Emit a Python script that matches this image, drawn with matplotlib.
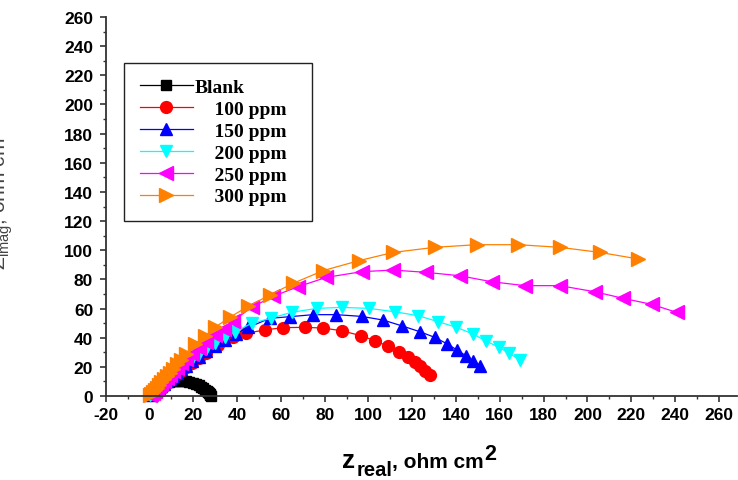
import matplotlib
matplotlib.use("Agg")
import matplotlib.pyplot as plt
from matplotlib.ticker import MultipleLocator

# ---------------- data ----------------
labels = ["Blank", "    100 ppm", "    150 ppm", "    200 ppm", "    250 ppm", "    300 ppm"]

blank_x = [0.5, 1, 1.8, 2.7, 3.7, 4.8, 6, 7.3, 8.7, 10.2, 11.8, 13.4, 15, 16.6, 18.2, 19.7,
           21.1, 22.4, 23.6, 24.6, 25.5, 26.2, 26.8, 27.3, 27.6, 27.8, 27.9]
blank_y = [0.6, 1.8, 3.2, 4.6, 5.9, 7.1, 8.1, 9, 9.7, 10.2, 10.5, 10.6, 10.5, 10.2, 9.7, 9.1,
           8.3, 7.4, 6.4, 5.4, 4.4, 3.5, 2.6, 1.8, 1.1, 0.5, 0]

ppm100_x = [0.3, 0.8, 1.5, 2.3, 3.2, 4.2, 5.3, 6.5, 7.8, 9.2, 10.8, 12.5, 14.5, 16.8, 19.3, 22.5,
            26, 31.4, 38.2, 44, 52.7, 61, 71, 79.3, 87.7, 96.5, 103, 109, 114, 118.1, 121.2,
            123.5, 125.8, 128]
ppm100_y = [0.4, 1.0, 1.8, 2.8, 3.9, 5.1, 6.4, 7.8, 9.4, 11, 12.9, 14.9, 17.2, 19.7, 22.4, 25.8,
            29.5, 35.0, 40.2, 43, 45.3, 46.9, 47.1, 46.6, 44.8, 41.4, 37.9, 34.1, 30.4, 27, 23.5,
            20.8, 17.4, 14.4]

ppm150_x = [0.3, 0.8, 1.5, 2.3, 3.2, 4.2, 5.3, 6.5, 7.8, 9.2, 10.8, 12.5, 14.5, 16.8, 19.5, 22.5,
            26, 30, 34.5, 39.5, 45, 55, 64, 74.7, 85.4, 96.9, 106.7, 115.1, 123.5, 130.3, 136,
            140.5, 144.5, 147.8, 150.9]
ppm150_y = [0.4, 1.1, 2.0, 3.0, 4.2, 5.5, 6.9, 8.4, 10.0, 11.8, 13.7, 15.8, 18.2, 20.8, 23.7, 27,
            30.6, 34.5, 38.6, 42.8, 47, 53.3, 54.4, 55.8, 55.8, 54.6, 52.1, 48.2, 44.1, 40.2, 35.7,
            31.5, 27.6, 24.2, 20.8]

ppm200_x = [0.3, 0.8, 1.5, 2.3, 3.2, 4.2, 5.3, 6.5, 7.8, 9.2, 10.8, 12.5, 14.5, 16.8, 19.5, 22.5,
            26, 30, 34.5, 39, 46.6, 55.7, 64.9, 76.3, 87.7, 100.3, 112, 122.7, 131.8, 140.2,
            147.8, 153.9, 159.7, 164.2, 169.1]
ppm200_y = [0.4, 1.1, 2.1, 3.2, 4.4, 5.8, 7.3, 8.9, 10.7, 12.6, 14.7, 17.0, 19.6, 22.4, 25.5, 28.8,
            32.5, 36.4, 40.3, 44.1, 49.8, 53.5, 57.4, 60.1, 60.8, 60.1, 57.8, 55.1, 51, 47.1,
            42.5, 37.5, 33.4, 29.3, 24.9]

ppm250_x = [0.3, 0.8, 1.5, 2.3, 3.2, 4.2, 5.3, 6.5, 7.8, 9.2, 10.8, 12.5, 14.5, 16.8, 19.5, 22.5,
            26, 30, 34, 38.2, 46.6, 56.5, 67.9, 80.8, 97, 111.3, 126.5, 141.7, 156.2, 171.4,
            187.4, 203.4, 216.3, 229.3, 240.7]
ppm250_y = [0.5, 1.3, 2.4, 3.7, 5.1, 6.7, 8.4, 10.3, 12.3, 14.5, 16.9, 19.5, 22.4, 25.6, 29.1, 32.9,
            37.1, 41.7, 46.3, 51.5, 60.8, 68.4, 75, 81.4, 85.3, 86.4, 84.8, 82.5, 78.4, 75.7,
            75.7, 71.5, 67, 62.9, 57.4]

ppm300_x = [0.3, 0.8, 1.5, 2.3, 3.2, 4.2, 5.3, 6.5, 7.8, 9.2, 10.8, 12.5, 14.5, 16.8, 20.7, 25.3,
            29.9, 36.7, 45, 55, 65.6, 79.3, 95.5, 111.3, 130.3, 149.4, 168.4, 187.4, 205.7, 223.2]
ppm300_y = [0.5, 1.4, 2.6, 4.0, 5.6, 7.3, 9.3, 11.4, 13.7, 16.1, 18.8, 21.7, 25, 28.8, 35.7, 41,
            47.1, 54, 61.5, 69.3, 77.3, 86, 92.8, 98.5, 102, 103.8, 103.8, 102, 98.5, 94]

# ---------------- style ----------------
colors = ["black", "#ff0000", "#0000ff", "#00ffff", "#ff00ff", "#ff8000"]
markers = ["s", "o", "^", "v", "<", ">"]
msizes = [7, 8.5, 9, 9, 9.5, 9.5]

series = [(blank_x, blank_y), (ppm100_x, ppm100_y), (ppm150_x, ppm150_y),
          (ppm200_x, ppm200_y), (ppm250_x, ppm250_y), (ppm300_x, ppm300_y)]

plt.rcParams["font.family"] = ["Liberation Sans", "DejaVu Sans"]
plt.rcParams["axes.unicode_minus"] = False

fig = plt.figure(figsize=(7.38, 4.81), dpi=100)
ax = fig.add_axes([105.7 / 738, 84 / 481, 631.3 / 738, 379 / 481])

for (xs, ys), c, m, ms, lab in zip(series, colors, markers, msizes, labels):
    ax.plot(xs, ys, color=c, marker=m, markersize=ms, markerfacecolor=c,
            markeredgecolor=c, linewidth=0.9, label=lab, clip_on=False)

ax.set_xlim(-20, 268.3)
ax.set_ylim(0, 260)
ax.xaxis.set_major_locator(MultipleLocator(20))
ax.xaxis.set_minor_locator(MultipleLocator(10))
ax.yaxis.set_major_locator(MultipleLocator(20))
ax.yaxis.set_minor_locator(MultipleLocator(10))

for s in ["top", "right"]:
    ax.spines[s].set_visible(False)
for s in ["left", "bottom"]:
    ax.spines[s].set_color("#333333")
    ax.spines[s].set_linewidth(1.3)

ax.tick_params(which="major", direction="out", length=4, width=1.2, color="#333333",
               labelsize=12.5, pad=4)
ax.tick_params(which="minor", direction="out", length=2.5, width=1.0, color="#333333")
ax.tick_params(axis="y", which="major", pad=5)
for lbl in ax.get_xticklabels() + ax.get_yticklabels():
    lbl.set_fontweight("bold")

leg = ax.legend(loc="upper left", bbox_to_anchor=(0.029, 0.462, 0.298, 0.417),
                mode="expand", borderaxespad=0, numpoints=1, handlelength=2.75,
                handletextpad=0.1, borderpad=0.8, labelspacing=0.22, fancybox=False,
                framealpha=1, edgecolor="#222222",
                prop={"family": "Liberation Serif", "weight": "bold", "size": 14})
leg.get_frame().set_linewidth(1.0)

# x label: z_real, ohm cm^2 (pieces)
t1 = fig.text(342 / 738, 1 - 468 / 481, "z", fontsize=19, fontweight="bold",
              ha="left", va="baseline", color="black")
t2 = ax.annotate("real", xy=(1, 0), xycoords=t1, xytext=(1, -5), textcoords="offset points",
                 fontsize=14.5, fontweight="bold", ha="left", va="bottom", annotation_clip=False)
t3 = ax.annotate(", ohm cm", xy=(1, 0), xycoords=t2, xytext=(0, 6), textcoords="offset points",
                 fontsize=15, fontweight="bold", ha="left", va="bottom", annotation_clip=False)
t4 = ax.annotate("2", xy=(1, 0), xycoords=t3, xytext=(0, 5), textcoords="offset points",
                 fontsize=15.5, fontweight="bold", ha="left", va="bottom", annotation_clip=False)

# y label (partly cut off at the left edge, as in the reference)
fig.text(15 / 738, 1 - 208 / 481, r"$-$Z$_{\mathregular{imag}}$, ohm cm$^{\mathregular{2}}$",
         rotation=90, fontsize=15, color="#444444", ha="right", va="center")

fig.savefig("out.png", dpi=100)
